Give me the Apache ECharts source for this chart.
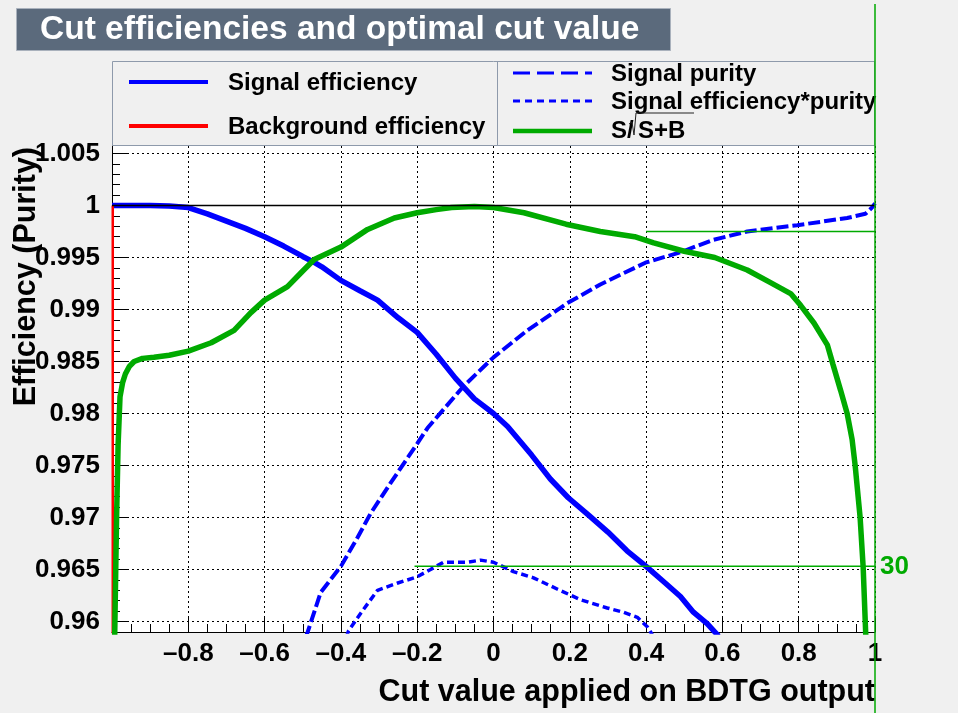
<!DOCTYPE html>
<html>
<head>
<meta charset="utf-8">
<script src="https://cdn.jsdelivr.net/npm/echarts@6/dist/echarts.min.js"></script>
<style>
  html, body { margin: 0; padding: 0; background: #f0f0f0; }
  #chart { width: 958px; height: 713px; }
</style>
</head>
<body>
<div id="chart"></div>
<script>
// ---- Data: efficiencies versus cut value on the BDTG output ----
const effX = [-1, -0.9, -0.85, -0.8, -0.75, -0.7, -0.65, -0.6, -0.55, -0.5, -0.471, -0.45, -0.4, -0.35, -0.304, -0.25, -0.2, -0.15, -0.1, -0.05, 0, 0.037, 0.1, 0.149, 0.196, 0.25, 0.3, 0.35, 0.4, 0.45, 0.49, 0.524, 0.56, 0.59];
const effY = [1.0, 1.0, 0.99995, 0.9998, 0.9992, 0.9985, 0.9978, 0.9970, 0.9961, 0.9951, 0.99455, 0.9941, 0.9928, 0.9918, 0.9909, 0.9892, 0.9878, 0.9857, 0.9834, 0.9814, 0.9800, 0.97875, 0.9760, 0.9737, 0.9719, 0.9702, 0.9686, 0.9668, 0.9653, 0.9637, 0.9624, 0.9609, 0.9598, 0.9586];

const bkgX = [-0.998, -0.998];
const bkgY = [1.0, 0.955];

const purX = [-0.492, -0.487, -0.453, -0.4, -0.356, -0.322, -0.27, -0.2, -0.173, -0.079, 0, 0.089, 0.193, 0.28, 0.398, 0.49, 0.576, 0.665, 0.796, 0.927, 0.975, 0.992, 1.0];
const purY = [0.9585, 0.9590, 0.9628, 0.9653, 0.9681, 0.9704, 0.9733, 0.9771, 0.9786, 0.9826, 0.9854, 0.9880, 0.9906, 0.9924, 0.9945, 0.9955, 0.9967, 0.9975, 0.9981, 0.9988, 0.9992, 0.9998, 1.0002];

const effPurX = [-0.386, -0.38, -0.348, -0.304, -0.251, -0.2, -0.165, -0.131, -0.068, -0.034, 0, 0.052, 0.105, 0.168, 0.228, 0.298, 0.34, 0.377, 0.403, 0.42];
const effPurY = [0.9585, 0.9591, 0.9608, 0.9630, 0.9637, 0.9643, 0.9650, 0.9657, 0.9657, 0.9659, 0.9657, 0.9648, 0.9642, 0.9631, 0.9621, 0.9613, 0.9609, 0.9604, 0.9595, 0.9585];

// S/sqrt(S+B), drawn in the units of the efficiency axis
const sigX = [-0.993, -0.988, -0.984, -0.979, -0.972, -0.965, -0.955, -0.942, -0.92, -0.89, -0.85, -0.8, -0.74, -0.68, -0.636, -0.6, -0.54, -0.5, -0.47, -0.4, -0.33, -0.26, -0.2, -0.15, -0.11, -0.05, 0, 0.08, 0.19, 0.28, 0.37, 0.42, 0.5, 0.58, 0.665, 0.725, 0.78, 0.805, 0.84, 0.875, 0.89, 0.91, 0.927, 0.94, 0.948, 0.961, 0.969, 0.976];
const sigY = [0.9585, 0.9700, 0.9770, 0.9816, 0.9830, 0.9838, 0.9845, 0.9850, 0.9853, 0.9854, 0.9856, 0.9860, 0.9868, 0.9880, 0.9897, 0.9909, 0.9922, 0.9937, 0.9948, 0.9960, 0.9977, 0.9988, 0.9993, 0.9996, 0.9998, 0.9999, 0.9998, 0.9993, 0.9982, 0.9975, 0.9970, 0.9964, 0.9956, 0.9950, 0.9938, 0.9926, 0.9915, 0.9904, 0.9887, 0.9866, 0.9847, 0.9822, 0.9800, 0.9775, 0.9750, 0.9700, 0.9652, 0.9585];

// Reference lines: unity, and the optimal-cut markers
const unityX = [-1, 1];
const unityY = [1, 1];
const optUpperX = [0.4, 1];
const optUpperY = [0.99750, 0.99750];
const optLowerX = [-0.207, 1];
const optLowerY = [0.9653, 0.9653];
const optLabel = '30';

// Axis ranges and ticks
const xMin = -1, xMax = 1, xStep = 0.2;
const yMin = 0.95899, yMax = 1.00572;
const yTickValues = [0.96, 0.965, 0.97, 0.975, 0.98, 0.985, 0.99, 0.995, 1, 1.005];
const yTickLabels = ['0.96', '0.965', '0.97', '0.975', '0.98', '0.985', '0.99', '0.995', '1', '1.005'];

const FONT = '"Liberation Sans", Arial, Helvetica, sans-serif';
const BLUE = '#0000ff', RED = '#ff0000', GREEN = '#00aa00';

function pairs(xs, ys) { return xs.map((x, i) => [x, ys[i]]); }

// minor y ticks every 0.001 between the labelled ones
const yMinorTicks = [];
for (let k = 959; k <= 1005; k++) {
  if (k % 5 !== 0) yMinorTicks.push(k / 1000);
}

function yLabel(v) {
  for (let i = 0; i < yTickValues.length; i++) {
    if (Math.abs(yTickValues[i] - v) < 1e-7) return yTickLabels[i];
  }
  return '';
}
function xLabel(v) {
  const r = Math.round(v * 10) / 10;
  if (r <= -1) return '';
  if (r < 0) return '\u2013' + String(Math.abs(r));
  return String(r);
}

const chart = echarts.init(document.getElementById('chart'), null, { width: 958, height: 713, renderer: 'canvas' });

const lineBase = { type: 'line', showSymbol: false, symbol: 'none', animation: false, xAxisIndex: 0, yAxisIndex: 0 };
const legendFont = 'bold 24px ' + FONT;

const option = {
  backgroundColor: '#f0f0f0',
  animation: false,
  grid: { left: 112, right: 83, top: 146, bottom: 81, show: true, backgroundColor: '#ffffff', borderWidth: 0 },
  xAxis: [{
    type: 'value', min: xMin, max: xMax, interval: xStep,
    axisLine: { show: true, onZero: false, lineStyle: { color: '#000', width: 1 } },
    axisTick: { show: true, inside: true, length: 15, lineStyle: { color: '#000', width: 1 } },
    minorTick: { show: true, splitNumber: 4, length: 8, lineStyle: { color: '#000', width: 1 } },
    axisLabel: { formatter: xLabel, fontSize: 26, fontWeight: 'bold', color: '#000', fontFamily: FONT, margin: 9, hideOverlap: false },
    splitLine: { show: true, lineStyle: { color: '#000', type: [2, 3], width: 1 } }
  }],
  yAxis: [{
    type: 'value', min: yMin, max: yMax, position: 'left',
    axisLine: { show: true, onZero: false, lineStyle: { color: '#000', width: 1 } },
    axisTick: { show: true, inside: true, length: 17, customValues: yTickValues, lineStyle: { color: '#000', width: 1 } },
    axisLabel: { customValues: yTickValues, formatter: yLabel, fontSize: 26, fontWeight: 'bold', color: '#000', fontFamily: FONT, margin: 12 },
    splitLine: { show: true, lineStyle: { color: '#000', type: [2, 3], width: 1 } }
  }, {
    type: 'value', min: yMin, max: yMax, position: 'left',
    axisLine: { show: false, onZero: false },
    axisTick: { show: true, inside: true, length: 8, customValues: yMinorTicks, lineStyle: { color: '#000', width: 1 } },
    axisLabel: { show: false },
    splitLine: { show: false }
  }, {
    type: 'value', min: yMin, max: yMax, position: 'right',
    axisLine: { show: false, onZero: false },
    axisTick: { show: false },
    axisLabel: { customValues: [optLowerY[0]], formatter: () => optLabel, fontSize: 26, fontWeight: 'bold', color: GREEN, fontFamily: FONT, margin: 5 },
    splitLine: { show: false }
  }],
  series: [
    Object.assign({}, lineBase, { name: 'Signal efficiency', z: 3, data: pairs(effX, effY), lineStyle: { color: BLUE, width: 5.5 } }),
    Object.assign({}, lineBase, { name: 'Background efficiency', z: 3, data: pairs(bkgX, bkgY), lineStyle: { color: RED, width: 2.5 } }),
    Object.assign({}, lineBase, { name: 'Signal purity', z: 4, data: pairs(purX, purY), lineStyle: { color: BLUE, width: 4, type: [12, 4] } }),
    Object.assign({}, lineBase, { name: 'Signal efficiency*purity', z: 4, data: pairs(effPurX, effPurY), lineStyle: { color: BLUE, width: 3.5, type: [7, 4] } }),
    Object.assign({}, lineBase, { name: 'S/sqrt(S+B)', z: 5, data: pairs(sigX, sigY), lineStyle: { color: GREEN, width: 5.5 } }),
    Object.assign({}, lineBase, { name: 'unity', z: 6, data: pairs(unityX, unityY), lineStyle: { color: '#000', width: 1.3 } }),
    Object.assign({}, lineBase, { name: 'opt upper', z: 6, data: pairs(optUpperX, optUpperY), lineStyle: { color: GREEN, width: 1.5 } }),
    Object.assign({}, lineBase, { name: 'opt lower', z: 6, data: pairs(optLowerX, optLowerY), lineStyle: { color: GREEN, width: 1.5 } })
  ],
  graphic: [
    // title box
    { type: 'rect', z: 10, shape: { x: 16.5, y: 8.5, width: 654, height: 42 }, style: { fill: '#5b6a7c', stroke: '#a9b1bc', lineWidth: 1 } },
    { type: 'text', z: 11, x: 40, y: 30, style: { text: 'Cut efficiencies and optimal cut value', fill: '#ffffff', font: 'bold 33.5px ' + FONT, verticalAlign: 'middle', align: 'left' } },
    // legend box
    { type: 'rect', z: 10, shape: { x: 112.5, y: 61.5, width: 762, height: 84 }, style: { fill: 'none', stroke: '#8e9aab', lineWidth: 1 } },
    { type: 'line', z: 10, shape: { x1: 497.5, y1: 61.5, x2: 497.5, y2: 145.5 }, style: { stroke: '#8e9aab', lineWidth: 1 } },
    { type: 'line', z: 10, shape: { x1: 129, y1: 82, x2: 208, y2: 82 }, style: { stroke: BLUE, lineWidth: 4 } },
    { type: 'text', z: 10, x: 228, y: 83, style: { text: 'Signal efficiency', fill: '#000', font: legendFont, verticalAlign: 'middle' } },
    { type: 'line', z: 10, shape: { x1: 129, y1: 126, x2: 208, y2: 126 }, style: { stroke: RED, lineWidth: 4 } },
    { type: 'text', z: 10, x: 228, y: 127, style: { text: 'Background efficiency', fill: '#000', font: legendFont, verticalAlign: 'middle' } },
    { type: 'line', z: 10, shape: { x1: 513, y1: 73, x2: 592, y2: 73 }, style: { stroke: BLUE, lineWidth: 3, lineDash: [17, 7] } },
    { type: 'text', z: 10, x: 611, y: 74, style: { text: 'Signal purity', fill: '#000', font: legendFont, verticalAlign: 'middle' } },
    { type: 'line', z: 10, shape: { x1: 513, y1: 101, x2: 592, y2: 101 }, style: { stroke: BLUE, lineWidth: 3, lineDash: [7, 5] } },
    { type: 'text', z: 10, x: 611, y: 102, style: { text: 'Signal efficiency*purity', fill: '#000', font: legendFont, verticalAlign: 'middle' } },
    { type: 'line', z: 10, shape: { x1: 513, y1: 131, x2: 592, y2: 131 }, style: { stroke: GREEN, lineWidth: 4.5 } },
    { type: 'text', z: 10, x: 611, y: 131, style: { text: 'S/', fill: '#000', font: legendFont, verticalAlign: 'middle' } },
    { type: 'polyline', z: 10, shape: { points: [[629, 124], [632, 122], [634, 135], [636, 113], [694, 113]] }, style: { stroke: '#222', lineWidth: 1, fill: null } },
    { type: 'text', z: 10, x: 638, y: 131, style: { text: 'S+B', fill: '#000', font: legendFont, verticalAlign: 'middle' } },
    // axis titles
    { type: 'text', z: 10, x: 875, y: 693, style: { text: 'Cut value applied on BDTG output', fill: '#000', font: 'bold 30.5px ' + FONT, verticalAlign: 'middle', align: 'right' } },
    { type: 'text', z: 12, x: 27, y: 147, rotation: Math.PI / 2, style: { text: 'Efficiency (Purity)', fill: '#000', font: 'bold 30.5px ' + FONT, verticalAlign: 'middle', align: 'right' } },
    // right-hand S/sqrt(S+B) axis line
    { type: 'line', z: 12, shape: { x1: 875, y1: 4, x2: 875, y2: 713 }, style: { stroke: GREEN, lineWidth: 1.5 } }
  ]
};

chart.setOption(option);
</script>
</body>
</html>
